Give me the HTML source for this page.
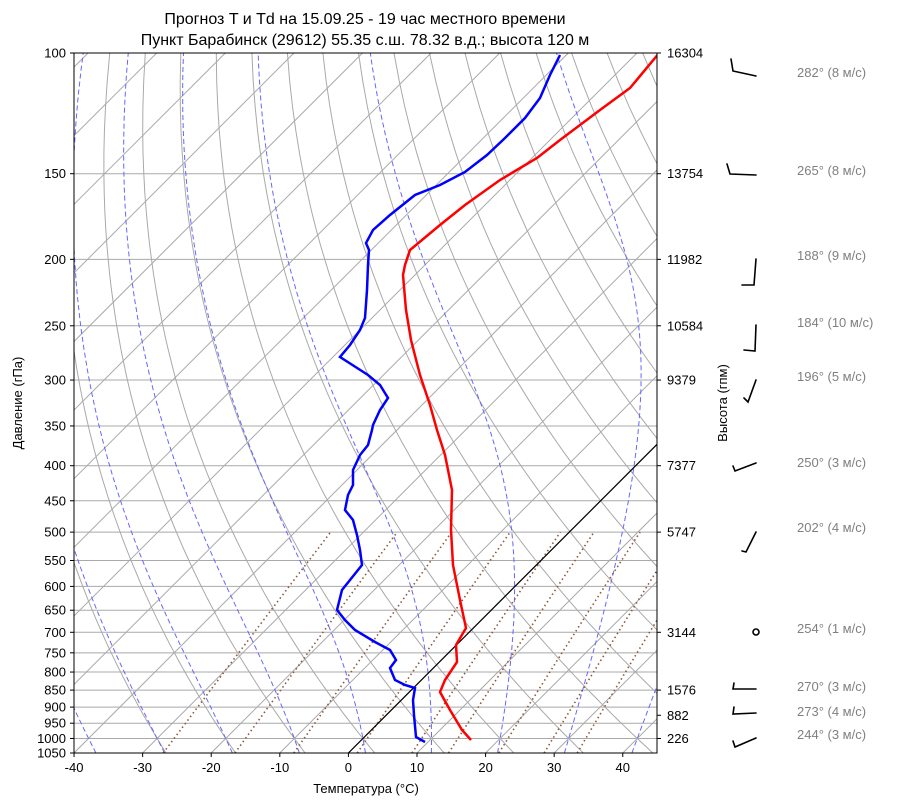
<!DOCTYPE html>
<html><head><meta charset="utf-8"><style>
body{margin:0;background:#fff;}
svg{font-family:"Liberation Sans","DejaVu Sans",sans-serif;}
</style></head><body>
<svg id="s" width="900" height="806" xmlns="http://www.w3.org/2000/svg">
<defs><clipPath id="c"><rect x="74" y="53" width="583" height="700"/></clipPath></defs>
<rect width="900" height="806" fill="#fff"/>
<g id="g" clip-path="url(#c)"></g>
<rect x="74" y="53" width="583" height="700" fill="none" stroke="#000" stroke-width="1"/>
<text x="365" y="24" font-size="16" text-anchor="middle">Прогноз T и Td на 15.09.25 - 19 час местного времени</text>
<text x="365" y="45" font-size="16" text-anchor="middle">Пункт Барабинск (29612) 55.35 с.ш. 78.32 в.д.; высота 120 м</text>
<text x="366" y="793" font-size="13" text-anchor="middle">Температура (°C)</text>
<text transform="translate(22,403) rotate(-90)" font-size="13" text-anchor="middle">Давление (гПа)</text>
<text transform="translate(727,403) rotate(-90)" font-size="13" text-anchor="middle">Высота (гпм)</text>
<g id="ax" font-size="13"></g>
<g stroke="#000" stroke-width="1.6" fill="none" stroke-linecap="round">
<polyline points="756,76 733,71 731,59"/>
<polyline points="756,175 730,174 727,164"/>
<polyline points="756,259 754,285 742,285"/>
<polyline points="756,325 755,351 744,350"/>
<polyline points="756,380 748,402 744,398"/>
<polyline points="756,463 735,471 733,466"/>
<polyline points="756,532 746,552 742,551"/>
<circle cx="756" cy="632" r="3"/>
<polyline points="756,689 733,689 734,683"/>
<polyline points="756,713 733,714 734,707"/>
<polyline points="756,738 735,747 733,741"/>
</g>
<g fill="#808080" font-size="13">
<text x="797" y="77">282° (8 м/с)</text>
<text x="797" y="175">265° (8 м/с)</text>
<text x="797" y="260">188° (9 м/с)</text>
<text x="797" y="327">184° (10 м/с)</text>
<text x="797" y="381">196° (5 м/с)</text>
<text x="797" y="467">250° (3 м/с)</text>
<text x="797" y="532">202° (4 м/с)</text>
<text x="797" y="633">254° (1 м/с)</text>
<text x="797" y="691">270° (3 м/с)</text>
<text x="797" y="716">273° (4 м/с)</text>
<text x="797" y="739">244° (3 м/с)</text>
</g>
</svg>
<script>
var NS="http://www.w3.org/2000/svg",g=document.getElementById('g'),ax=document.getElementById('ax');
var L=Math.log(10.5);
function Y(p){return 53+700*Math.log(p/100)/L;}
function X(T,p){return 348.4+6.859*T+(753-Y(p));}
function el(par,n,a,t){var e=document.createElementNS(NS,n);for(var k in a)e.setAttribute(k,a[k]);if(t!==undefined)e.textContent=t;par.appendChild(e);return e;}
function line(pts,st){el(g,'polyline',Object.assign({points:pts.map(function(q){return q[0].toFixed(1)+','+q[1].toFixed(1);}).join(' '),fill:'none'},st));}
var P=[100,150,200,250,300,350,400,450,500,550,600,650,700,750,800,850,900,950,1000,1050];
P.forEach(function(p){var y=Y(p);el(g,'line',{x1:74,x2:657,y1:y,y2:y,stroke:'#a9a9a9','stroke-width':1});
 el(ax,'line',{x1:70,x2:74,y1:y,y2:y,stroke:'#000'});el(ax,'text',{x:66,y:y+4.5,'text-anchor':'end'},p);});
for(var T=-40;T<=40;T+=10){var x=X(T,1050);el(ax,'line',{x1:x,x2:x,y1:753,y2:757,stroke:'#000'});el(ax,'text',{x:x,y:772,'text-anchor':'middle'},T);}
// isotherms
for(var T=-150;T<=50;T+=10){line([[X(T,1050),Y(1050)],[X(T,100),Y(100)]],{stroke:'#a9a9a9','stroke-width':1});}
// dry adiabats
for(var th=-30;th<200;th+=10){var pts=[];for(var p=1050;p>=100;p-=10){var Tk=(th+273.15)*Math.pow(p/1000,0.2857);pts.push([X(Tk-273.15,p),Y(p)]);}line(pts,{stroke:'#a9a9a9','stroke-width':1});}
// moist adiabats
function es(T){return 6.112*Math.exp(17.67*T/(T+243.5));}
function dTdp(Tk,p){var T=Tk-273.15,e=es(T),rs=0.622*e/(p-e),Rd=287,cp=1005,Lv=2.501e6;return (Rd*Tk+Lv*rs)/(cp+Lv*Lv*rs*0.622/(Rd*Tk*Tk))/p;}
for(var t0=-50;t0<=40;t0+=10){var Tk=t0+273.15,pts=[],p=1000;var Td=Tk;for(var q=1000;q<1050;q+=1){Td+=dTdp(Td,q)*1;}pts.push([X(Td-273.15,1050),Y(1050)]);
 for(p=1000;p>=100;p-=2){pts.push([X(Tk-273.15,p),Y(p)]);Tk-=dTdp(Tk,p)*2;}pts.splice(1,0);line(pts,{stroke:'#6666ff','stroke-width':1,'stroke-dasharray':'5,3'});}
// mixing ratio
[0.0004,0.001,0.002,0.004,0.007,0.01,0.016,0.024,0.032].forEach(function(w){var pts=[];for(var p=1050;p>=500;p-=10){var e=w*p/(0.622+w),l=Math.log(e/6.112),Td=243.5*l/(17.67-l);pts.push([X(Td,p),Y(p)]);}line(pts,{stroke:'#8b5a3c','stroke-width':1.6,'stroke-dasharray':'1.5,3'});});
// 0 isotherm black
line([[X(0,1050),Y(1050)],[X(0,100),Y(100)]],{stroke:'#000','stroke-width':1.2});
// data
line([[471,740],[462,730],[450,710],[440,692],[445,680],[457,662],[456,645],[466,628],[460,600],[453,565],[451,530],[452,490],[445,455],[437,430],[430,405],[420,375],[411,340],[406,310],[403,275],[405,265],[410,250],[422,240],[440,225],[465,205],[500,180],[537,158],[560,140],[600,110],[630,88],[660,52]],{stroke:'#ff0000','stroke-width':2.5});
line([[425,742],[416,737],[414,715],[413,700],[415,688],[405,685],[395,680],[390,668],[396,660],[390,650],[375,642],[355,630],[345,620],[337,610],[342,590],[350,580],[362,565],[360,550],[357,535],[353,520],[345,510],[348,495],[353,485],[353,470],[360,455],[368,445],[372,430],[373,425],[380,410],[388,398],[380,385],[368,375],[340,357],[350,345],[360,330],[365,318],[367,290],[368,265],[369,250],[366,243],[373,230],[390,215],[415,195],[440,185],[465,172],[487,155],[505,138],[525,118],[540,98],[550,75],[560,55]],{stroke:'#0000ff','stroke-width':2.5});
// right heights
[[100,16304],[150,13754],[200,11982],[250,10584],[300,9379],[400,7377],[500,5747],[700,3144],[850,1576],[925,882],[1000,226]].forEach(function(a){var y=Y(a[0]);el(ax,'line',{x1:657,x2:661,y1:y,y2:y,stroke:'#000'});el(ax,'text',{x:667,y:y+4.5},a[1]);});
</script>
</body></html>
